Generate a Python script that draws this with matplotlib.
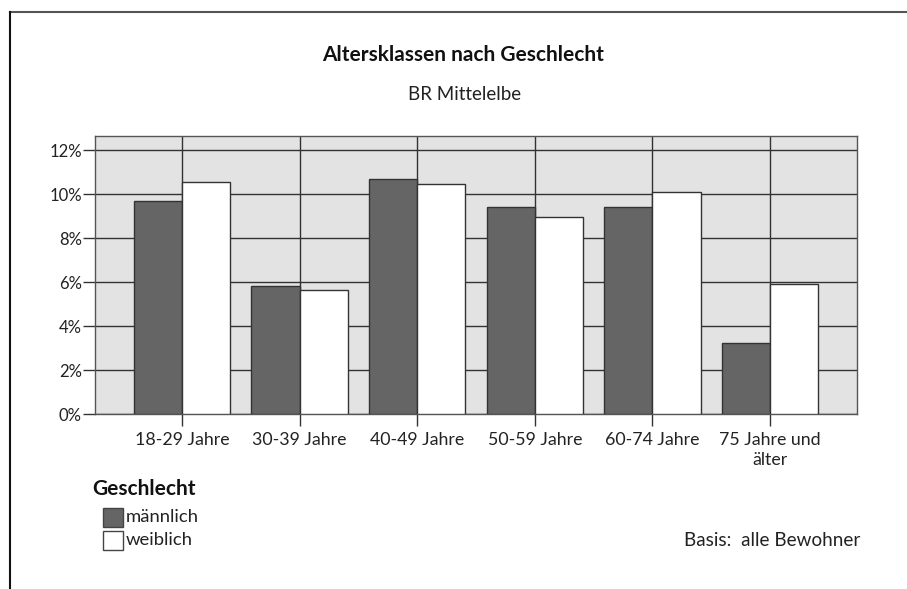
import numpy as np
import matplotlib
matplotlib.use("Agg")
from matplotlib import pyplot as plt
from matplotlib.patches import Rectangle
from matplotlib.lines import Line2D
from matplotlib.ticker import FuncFormatter

plt.rcParams['font.family'] = ['Lato', 'DejaVu Sans']

categories = ["18-29 Jahre", "30-39 Jahre", "40-49 Jahre", "50-59 Jahre",
              "60-74 Jahre", "75 Jahre und\nälter"]
maennlich = [9.7, 5.82, 10.67, 9.42, 9.42, 3.24]
weiblich = [10.56, 5.64, 10.44, 8.97, 10.1, 5.9]
yticks = [0, 2, 4, 6, 8, 10, 12]

dark = "#656565"
bg = "#e3e3e3"
edge = "#333333"

fig = plt.figure(figsize=(9.07, 5.89), dpi=100)
ax = fig.add_axes([0.1047, 0.2971, 0.8402, 0.4720])
ax.set_facecolor(bg)

x = np.arange(len(categories))
w = 0.41
ax.bar(x - w / 2, maennlich, w, color=dark, edgecolor=edge, linewidth=1, zorder=3)
ax.bar(x + w / 2, weiblich, w, color="white", edgecolor=edge, linewidth=1, zorder=3)

ax.set_xlim(-0.74, 5.74)
ax.set_ylim(0, 12.64)
ax.set_xticks(x)
ax.set_xticklabels(categories, fontsize=12.8, color="#222222", linespacing=1.3)
ax.set_yticks(yticks)
ax.yaxis.set_major_formatter(FuncFormatter(lambda v, p: "%d%%" % v))
ax.tick_params(axis='both', length=8.5, width=1, color="#333333", direction='out')
ax.tick_params(axis='y', labelsize=12, labelcolor="#222222", pad=1)
ax.tick_params(axis='x', pad=4.5)
ax.grid(True, color="#333333", linewidth=1, zorder=1)
ax.set_axisbelow(True)
for s in ax.spines.values():
    s.set_color("#555555")
    s.set_linewidth(1)

fig.text(463 / 907, 1 - 55 / 589, "Altersklassen nach Geschlecht", ha='center', va='center',
         fontsize=15, fontweight='bold', color="#111111")
fig.text(465 / 907, 1 - 95 / 589, "BR Mittelelbe", ha='center', va='center',
         fontsize=13.5, color="#222222")

# legend
fig.text(92 / 907, 1 - 489 / 589, "Geschlecht", ha='left', va='center',
         fontsize=15, fontweight='bold', color="#111111")
legend_items = [("männlich", dark), ("weiblich", "white")]
for i, (lab, col) in enumerate(legend_items):
    yc = 517 + i * 23
    fig.patches.append(Rectangle((103 / 907, 1 - (yc + 9.5) / 589), 20 / 907, 19 / 589,
                                 transform=fig.transFigure, facecolor=col,
                                 edgecolor="#444444", linewidth=1))
    fig.text(126 / 907, 1 - yc / 589, lab, ha='left', va='center',
             fontsize=13.3, color="#222222")

fig.text(860 / 907, 1 - 540 / 589, "Basis:  alle Bewohner", ha='right', va='center',
         fontsize=13.6, color="#222222")

# outer frame (top and left)
fig.add_artist(Line2D([10 / 907, 907 / 907], [1 - 12 / 589, 1 - 12 / 589],
                      transform=fig.transFigure, color="#555555", linewidth=1.5))
fig.add_artist(Line2D([10 / 907, 10 / 907], [1 - 12 / 589, 0],
                      transform=fig.transFigure, color="#111111", linewidth=1.5))

fig.savefig("out.png", dpi=100)
